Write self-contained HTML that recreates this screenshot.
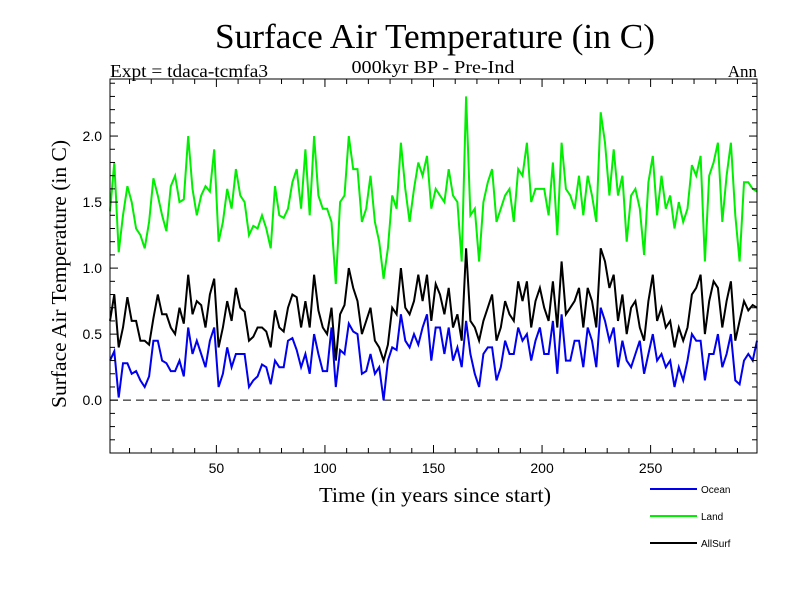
<!DOCTYPE html>
<html><head><meta charset="utf-8"><style>
body{margin:0;background:#fff;}
svg{display:block;}
.serif{font-family:"Liberation Serif",serif;}
.sans{font-family:"Liberation Sans",sans-serif;}
</style></head><body>
<svg id="chart" width="800" height="600" viewBox="0 0 800 600">
<text class="serif" x="435" y="48" font-size="35" text-anchor="middle" textLength="440" lengthAdjust="spacingAndGlyphs">Surface Air Temperature (in C)</text>
<text class="serif" x="110" y="77" font-size="18" textLength="158" lengthAdjust="spacingAndGlyphs">Expt = tdaca-tcmfa3</text>
<text class="serif" x="433" y="73" font-size="18" text-anchor="middle" textLength="163" lengthAdjust="spacingAndGlyphs">000kyr BP - Pre-Ind</text>
<text class="serif" x="757" y="77" font-size="17" text-anchor="end">Ann</text>
<text class="serif" x="435" y="502" font-size="21" text-anchor="middle" textLength="232" lengthAdjust="spacingAndGlyphs">Time (in years since start)</text>
<text class="serif" x="66" y="274" font-size="21" text-anchor="middle" textLength="268" lengthAdjust="spacingAndGlyphs" transform="rotate(-90 66 274)">Surface Air Temperature (in C)</text>
<g id="plot"></g>
<g id="legend"></g>
</svg>
<script>
const years = [];
for (let i = 0; i < 150; i++) years.push(1 + 2 * i);
const land = [1.43,1.80,1.12,1.40,1.62,1.50,1.30,1.25,1.15,1.35,1.68,1.55,1.40,1.28,1.62,1.70,1.50,1.52,2.00,1.60,1.40,1.55,1.62,1.58,1.90,1.20,1.35,1.60,1.45,1.75,1.55,1.50,1.25,1.32,1.30,1.40,1.30,1.15,1.62,
1.40,1.38,1.45,1.65,1.75,1.45,1.90,1.40,2.00,1.55,1.45,1.45,1.35,0.88,1.50,1.55,2.00,1.75,1.75,1.35,1.45,1.70,1.35,1.20,0.92,1.15,1.55,1.45,1.95,1.60,1.35,1.60,1.80,1.70,1.85,1.45,1.60,
1.55,1.50,1.75,1.55,1.50,1.05,2.30,1.40,1.45,1.05,1.50,1.65,1.75,1.35,1.45,1.55,1.60,1.35,1.75,1.70,1.95,1.50,1.60,1.60,1.60,1.40,1.80,1.25,1.95,1.60,1.55,1.45,1.70,1.40,1.70,1.55,1.35,2.18,
1.95,1.55,1.90,1.55,1.70,1.20,1.55,1.60,1.45,1.10,1.65,1.85,1.40,1.70,1.45,1.55,1.30,1.50,1.35,1.45,1.78,1.70,1.85,1.05,1.70,1.80,1.95,1.35,1.70,1.95,1.40,1.05,1.65,1.65,1.60,1.58];
const allsurf = [0.60,0.80,0.40,0.55,0.78,0.60,0.60,0.45,0.45,0.42,0.62,0.80,0.65,0.65,0.55,0.50,0.70,0.58,0.95,0.65,0.75,0.72,0.55,0.80,0.92,0.40,0.55,0.75,0.60,0.85,0.70,0.67,0.45,0.48,0.55,0.55,0.52,0.40,0.68,
0.55,0.52,0.70,0.80,0.78,0.55,0.75,0.55,0.95,0.68,0.55,0.50,0.70,0.30,0.65,0.72,1.00,0.85,0.75,0.50,0.60,0.70,0.45,0.40,0.30,0.42,0.70,0.65,1.00,0.70,0.65,0.75,0.95,0.75,0.95,0.60,0.88,
0.80,0.65,0.85,0.55,0.65,0.45,1.15,0.60,0.55,0.45,0.60,0.70,0.80,0.45,0.55,0.75,0.65,0.60,0.90,0.75,0.90,0.55,0.75,0.85,0.70,0.60,0.90,0.55,1.05,0.65,0.70,0.75,0.85,0.55,0.85,0.75,0.55,1.15,
1.05,0.85,0.95,0.60,0.80,0.50,0.70,0.75,0.55,0.45,0.75,0.95,0.60,0.70,0.55,0.60,0.40,0.55,0.45,0.55,0.80,0.85,0.95,0.50,0.75,0.90,0.85,0.55,0.75,0.90,0.45,0.60,0.75,0.68,0.72,0.70];
const ocean = [0.30,0.37,0.02,0.28,0.28,0.20,0.22,0.15,0.10,0.18,0.45,0.45,0.30,0.28,0.22,0.22,0.30,0.18,0.55,0.35,0.45,0.35,0.25,0.45,0.55,0.10,0.20,0.40,0.25,0.35,0.35,0.35,0.10,0.15,0.18,0.27,0.25,0.12,0.30,
0.25,0.25,0.45,0.47,0.38,0.25,0.35,0.20,0.50,0.35,0.22,0.22,0.55,0.10,0.38,0.35,0.58,0.52,0.50,0.20,0.22,0.35,0.20,0.25,0.00,0.30,0.40,0.38,0.65,0.45,0.40,0.50,0.42,0.55,0.65,0.30,0.55,
0.55,0.35,0.55,0.30,0.40,0.25,0.60,0.35,0.20,0.10,0.35,0.40,0.40,0.15,0.25,0.45,0.35,0.35,0.55,0.45,0.50,0.30,0.45,0.55,0.35,0.35,0.60,0.20,0.65,0.30,0.30,0.45,0.45,0.25,0.55,0.45,0.25,0.70,
0.60,0.45,0.55,0.25,0.45,0.30,0.25,0.35,0.45,0.20,0.35,0.50,0.30,0.35,0.25,0.30,0.10,0.25,0.15,0.30,0.50,0.45,0.45,0.15,0.35,0.35,0.50,0.25,0.35,0.50,0.15,0.12,0.30,0.35,0.30,0.45];
const xTicks = [50,100,150,200,250];
const yTicks = [0.0,0.5,1.0,1.5,2.0];
const yTickLabels = ["0.0","0.5","1.0","1.5","2.0"];

const L=110,R=757,T=79,B=453;
const xMin=1,xMax=299,yMin=-0.40,yMax=2.432;
const sx=v=>L+(v-xMin)/(xMax-xMin)*(R-L);
const sy=v=>B-(v-yMin)/(yMax-yMin)*(B-T);
const NS="http://www.w3.org/2000/svg";
const plot=document.getElementById('plot');
function mk(tag,attrs,parent){const e=document.createElementNS(NS,tag);for(const k in attrs)e.setAttribute(k,attrs[k]);(parent||plot).appendChild(e);return e;}

const zero=mk('line',{x1:L,x2:R,y1:sy(0),y2:sy(0),stroke:'#000','stroke-width':1,'stroke-dasharray':'8,5'});



const series=[[land,'#00ee00','land-line'],[allsurf,'#000','allsurf-line'],[ocean,'#0000ee','ocean-line']];
series.forEach(s=>{
  const d=s[0].map((v,i)=>(i?'L':'M')+sx(years[i]).toFixed(1)+','+sy(v).toFixed(1)).join('');
  const p=mk('path',{d:d,fill:'none',stroke:s[1],'stroke-width':2,'stroke-linejoin':'miter'});
  
  
});

const frame=mk('rect',{x:L,y:T,width:R-L,height:B-T,fill:'none',stroke:'#000','stroke-width':1});



for(let v=10;v<=290;v+=10){
  const major=v%50===0, len=major?8:5;
  mk('line',{x1:sx(v),x2:sx(v),y1:B,y2:B-len,stroke:'#000'});
  mk('line',{x1:sx(v),x2:sx(v),y1:T,y2:T+len,stroke:'#000'});
}
xTicks.forEach(v=>{
  const t=mk('text',{x:sx(v),y:B+20,'font-size':14,'text-anchor':'middle','font-family':'Liberation Sans, sans-serif'});
  t.textContent=v;
  
  
});
for(let k=-3;k<=24;k++){
  const v=k/10, major=k%5===0, len=major?8:5;
  mk('line',{x1:L,x2:L+len,y1:sy(v),y2:sy(v),stroke:'#000'});
  mk('line',{x1:R,x2:R-len,y1:sy(v),y2:sy(v),stroke:'#000'});
}
yTicks.forEach((v,i)=>{
  const t=mk('text',{x:L-8,y:sy(v)+5,'font-size':14,'text-anchor':'end','font-family':'Liberation Sans, sans-serif'});
  t.textContent=yTickLabels[i];
  
  
});

const legend=document.getElementById('legend');
[['Ocean','#0000ee',489],['Land','#00ee00',516],['AllSurf','#000',543]].forEach(e=>{
  const g=mk('g',{},legend);
  
  
  mk('line',{x1:650,x2:697,y1:e[2],y2:e[2],stroke:e[1],'stroke-width':2},g);
  const t=mk('text',{x:701,y:e[2]+4,'font-size':10,'font-family':'Liberation Sans, sans-serif'},g);
  t.textContent=e[0];
});
</script>
</body></html>
